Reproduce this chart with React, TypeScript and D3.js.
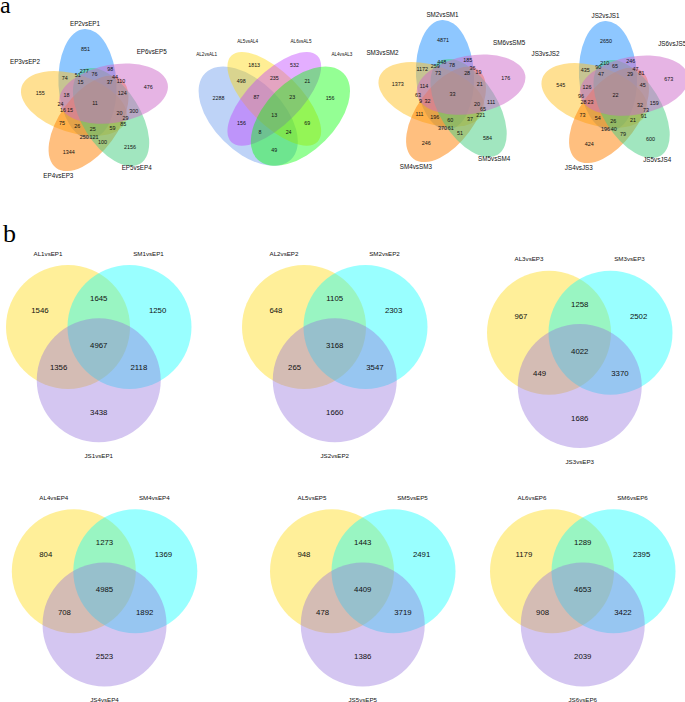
import React, { useMemo } from "react";
import * as d3 from "d3";

// ---------------- data ----------------
// five-set Venn diagrams (set order: top, left, bottom-left, bottom-right, right)
const epSets = ["EP2vsEP1", "EP3vsEP2", "EP4vsEP3", "EP5vsEP4", "EP6vsEP5"];
const smSets = ["SM2vsSM1", "SM3vsSM2", "SM4vsSM3", "SM5vsSM4", "SM6vsSM5"];
const jsSets = ["JS2vsJS1", "JS3vsJS2", "JS4vsJS3", "JS5vsJS4", "JS6vsJS5"];
const fiveRegions = [
  "1", "2", "3", "4", "5",
  "12", "13", "14", "15", "23", "24", "25", "34", "35", "45",
  "123", "124", "125", "134", "135", "145", "234", "235", "245", "345",
  "1234", "1235", "1245", "1345", "2345", "12345",
];
const epCounts = [
  851, 155, 1344, 2156, 476,
  74, 250, 277, 98, 75, 85, 24, 100, 110, 300,
  26, 51, 18, 121, 44, 76, 59, 16, 29, 124,
  25, 15, 15, 37, 20, 11,
];
const smCounts = [
  4871, 1373, 246, 584, 176,
  1172, 370, 448, 185, 111, 221, 63, 51, 19, 111,
  196, 259, 114, 61, 36, 78, 37, 9, 65, 21,
  60, 32, 73, 28, 20, 33,
];
const jsCounts = [
  2650, 545, 424, 600, 673,
  435, 196, 210, 246, 73, 91, 96, 79, 81, 159,
  54, 90, 126, 40, 47, 65, 21, 28, 73, 45,
  26, 23, 47, 29, 32, 22,
];
const fiveColors = ["#1E90FF", "#FFC125", "#FF7F00", "#43CD80", "#CD69C9"];

// four-set Venn diagram
const alSets = ["AL2vsAL1", "AL5vsAL4", "AL6vsAL5", "AL4vsAL3"];
const fourRegions = ["1", "2", "3", "4", "12", "13", "14", "23", "24", "34", "123", "124", "134", "234", "1234"];
const alCounts = [2288, 1813, 532, 156, 498, 156, 49, 235, 69, 21, 87, 24, 8, 23, 13];
const fourColors = ["#6495ED", "#FFD700", "#BF3EFF", "#00FF00"];

// three-set Venn diagrams (panel b)
const threeRegions = ["1", "2", "3", "12", "13", "23", "123"];
const bSets = [
  ["AL1vsEP1", "SM1vsEP1", "JS1vsEP1"],
  ["AL2vsEP2", "SM2vsEP2", "JS2vsEP2"],
  ["AL3vsEP3", "SM3vsEP3", "JS3vsEP3"],
  ["AL4vsEP4", "SM4vsEP4", "JS4vsEP4"],
  ["AL5vsEP5", "SM5vsEP5", "JS5vsEP5"],
  ["AL6vsEP6", "SM6vsEP6", "JS6vsEP6"],
];
const bCounts = [
  [1546, 1250, 3438, 1645, 1356, 2118, 4967],
  [648, 2303, 1660, 1105, 265, 3547, 3168],
  [967, 2502, 1686, 1258, 449, 3370, 4022],
  [804, 1369, 2523, 1273, 708, 1892, 4985],
  [948, 2491, 1386, 1443, 478, 3719, 4409],
  [1179, 2395, 2039, 1289, 908, 3422, 4653],
];
const threeColors = ["#FFD700", "#00FFFF", "#9370DB"];

// ---------------- layout ----------------
const FIVE = { a: 29, b: 55, d: 21, twist: 18, font: 5.4 };
const fiveAngleAdjust = [-3, 0, 0, 4, 8];
const fivePanels = [
  { sets: epSets, counts: epCounts, cx: 95, cy: 103.5 },
  { sets: smSets, counts: smCounts, cx: 452.5, cy: 94.5 },
  { sets: jsSets, counts: jsCounts, cx: 615.5, cy: 95.5 },
];
const fiveLabelOffsets = [[-10, -79.5], [-70, -41.8], [-36.7, 72.2], [41.7, 63.8], [56.7, -51.5]];

const FOUR = { x0: 187.3, y0: 198, unit: 174 };
const fourEllipses = [
  { x: 0.35, y: 0.47, a: 0.35, b: 0.2, rot: -45 },
  { x: 0.5, y: 0.57, a: 0.35, b: 0.15, rot: -45 },
  { x: 0.5, y: 0.57, a: 0.35, b: 0.15, rot: 45 },
  { x: 0.65, y: 0.47, a: 0.35, b: 0.2, rot: 45 },
];
const fourLabelPos = [[-67.6, 54], [-26.6, 41.7], [26.7, 41.7], [67.6, 54]];

const THREE = { r: 62, s: 61.5 };
const threePanels = [
  { cx: 68, cy: 327 },
  { cx: 304, cy: 327 },
  { cx: 549, cy: 332.8 },
  { cx: 73.8, cy: 571.3 },
  { cx: 332, cy: 571.3 },
  { cx: 552, cy: 571.3 },
];

type Shape = { cx: number; cy: number; rx: number; ry: number; rot: number; fill: string };

function inside(s: Shape, x: number, y: number) {
  const t = (s.rot * Math.PI) / 180;
  const dx = x - s.cx, dy = y - s.cy;
  const u = dx * Math.cos(t) + dy * Math.sin(t);
  const v = -dx * Math.sin(t) + dy * Math.cos(t);
  return (u * u) / (s.rx * s.rx) + (v * v) / (s.ry * s.ry) <= 1;
}

function maskOf(key: string) {
  let m = 0;
  for (const ch of key) m |= 1 << (+ch - 1);
  return m;
}

// label anchor of each region = its most interior point (distance transform)
function regionAnchors(shapes: Shape[], step: number) {
  let x0 = Infinity, y0 = Infinity, x1 = -Infinity, y1 = -Infinity;
  for (const s of shapes) {
    const e = Math.max(s.rx, s.ry);
    x0 = Math.min(x0, s.cx - e); y0 = Math.min(y0, s.cy - e);
    x1 = Math.max(x1, s.cx + e); y1 = Math.max(y1, s.cy + e);
  }
  x0 -= 4; y0 -= 4; x1 += 4; y1 += 4;
  const nx = Math.ceil((x1 - x0) / step) + 1, ny = Math.ceil((y1 - y0) / step) + 1;
  const mask = new Int32Array(nx * ny);
  for (let j = 0; j < ny; j++)
    for (let i = 0; i < nx; i++) {
      const x = x0 + i * step, y = y0 + j * step;
      let m = 0;
      for (let k = 0; k < shapes.length; k++) if (inside(shapes[k], x, y)) m |= 1 << k;
      mask[j * nx + i] = m;
    }
  const INF = 1e9;
  const dist = new Float64Array(nx * ny);
  for (let j = 0; j < ny; j++)
    for (let i = 0; i < nx; i++) {
      const idx = j * nx + i, m = mask[idx];
      let edge = i === 0 || j === 0 || i === nx - 1 || j === ny - 1;
      if (!edge && (mask[idx - 1] !== m || mask[idx + 1] !== m || mask[idx - nx] !== m || mask[idx + nx] !== m)) edge = true;
      dist[idx] = edge ? 0 : INF;
    }
  const D = Math.SQRT2;
  for (let j = 0; j < ny; j++)
    for (let i = 0; i < nx; i++) {
      const idx = j * nx + i;
      let v = dist[idx];
      if (i > 0) v = Math.min(v, dist[idx - 1] + 1);
      if (j > 0) {
        v = Math.min(v, dist[idx - nx] + 1);
        if (i > 0) v = Math.min(v, dist[idx - nx - 1] + D);
        if (i < nx - 1) v = Math.min(v, dist[idx - nx + 1] + D);
      }
      dist[idx] = v;
    }
  for (let j = ny - 1; j >= 0; j--)
    for (let i = nx - 1; i >= 0; i--) {
      const idx = j * nx + i;
      let v = dist[idx];
      if (i < nx - 1) v = Math.min(v, dist[idx + 1] + 1);
      if (j < ny - 1) {
        v = Math.min(v, dist[idx + nx] + 1);
        if (i < nx - 1) v = Math.min(v, dist[idx + nx + 1] + D);
        if (i > 0) v = Math.min(v, dist[idx + nx - 1] + D);
      }
      dist[idx] = v;
    }
  const maxD = new Map<number, number>();
  for (let idx = 0; idx < mask.length; idx++) {
    const m = mask[idx];
    if (!m) continue;
    if (!maxD.has(m) || dist[idx] > (maxD.get(m) as number)) maxD.set(m, dist[idx]);
  }
  const acc = new Map<number, [number, number, number]>();
  for (let j = 0; j < ny; j++)
    for (let i = 0; i < nx; i++) {
      const idx = j * nx + i, m = mask[idx];
      if (!m) continue;
      if (dist[idx] >= (maxD.get(m) as number) - 0.75) {
        const a = acc.get(m) || [0, 0, 0];
        a[0] += x0 + i * step; a[1] += y0 + j * step; a[2] += 1;
        acc.set(m, a);
      }
    }
  const out = new Map<number, [number, number]>();
  acc.forEach((a, m) => out.set(m, [a[0] / a[2], a[1] / a[2]]));
  return out;
}

// push apart number labels whose boxes overlap (horizontal nudge)
type Lab = { x: number; y: number; w: number; h: number; text: string; key: string };
function declutter(items: Lab[]) {
  for (let it = 0; it < 40; it++) {
    let moved = false;
    for (let i = 0; i < items.length; i++)
      for (let j = i + 1; j < items.length; j++) {
        const a = items[i], b = items[j];
        const dx = b.x - a.x, dy = b.y - a.y;
        const ox = (a.w + b.w) / 2 + 0.8 - Math.abs(dx);
        const oy = (a.h + b.h) / 2 - Math.abs(dy);
        if (ox > 0 && oy > 0) {
          const s = dx >= 0 ? 1 : -1;
          a.x -= (s * ox) / 2; b.x += (s * ox) / 2;
          moved = true;
        }
      }
    if (!moved) break;
  }
  return items;
}

const SANS = "'Liberation Sans', Arial, Helvetica, sans-serif";
const SERIF = "'Liberation Serif', 'Times New Roman', serif";

export default function App() {
  const five = useMemo(() => {
    const shapes: Shape[] = fiveColors.map((fill, i) => {
      const axis = -90 - 72 * i + fiveAngleAdjust[i];
      const cdir = ((axis - FIVE.twist) * Math.PI) / 180;
      return { cx: FIVE.d * Math.cos(cdir), cy: FIVE.d * Math.sin(cdir), rx: FIVE.b, ry: FIVE.a, rot: axis, fill };
    });
    const anchors = regionAnchors(shapes, 0.5);
    const labels = fivePanels.map((p) =>
      declutter(
        fiveRegions
          .map((key, i) => {
            const pt = anchors.get(maskOf(key));
            if (!pt) return null;
            const text = String(p.counts[i]);
            return { x: pt[0], y: pt[1], w: text.length * 0.556 * FIVE.font, h: FIVE.font * 0.72, text, key };
          })
          .filter(Boolean) as Lab[]
      )
    );
    return { shapes, labels };
  }, []);

  const four = useMemo(() => {
    const xs = d3.scaleLinear().domain([0, 1]).range([FOUR.x0, FOUR.x0 + FOUR.unit]);
    const ys = d3.scaleLinear().domain([0, 1]).range([FOUR.y0, FOUR.y0 - FOUR.unit]);
    const shapes: Shape[] = fourEllipses.map((e, i) => ({
      cx: xs(e.x), cy: ys(e.y), rx: e.a * FOUR.unit, ry: e.b * FOUR.unit, rot: -e.rot, fill: fourColors[i],
    }));
    return { shapes, anchors: regionAnchors(shapes, 0.5), midX: xs(0.5) };
  }, []);

  const three = useMemo(() => {
    const { r, s } = THREE;
    const shapes: Shape[] = [
      { cx: 0, cy: 0, rx: r, ry: r, rot: 0, fill: threeColors[0] },
      { cx: s, cy: 0, rx: r, ry: r, rot: 0, fill: threeColors[1] },
      { cx: s / 2, cy: s * Math.sqrt(3) / 2, rx: r, ry: r, rot: 0, fill: threeColors[2] },
    ];
    return { shapes, anchors: regionAnchors(shapes, 0.5) };
  }, []);

  return (
    <svg width={685} height={702} style={{ position: "absolute", left: 0, top: 0, background: "#fff" }} fontFamily={SANS}>
      <rect width={685} height={702} fill="#fff" />
      <text x={0} y={13} fontSize={24} fontFamily={SERIF}>a</text>
      <text x={3} y={241.5} fontSize={26} fontFamily={SERIF}>b</text>

      {fivePanels.map((p, pi) => (
        <g key={"five" + pi} transform={`translate(${p.cx},${p.cy})`}>
          {five.shapes.map((s, i) => (
            <ellipse key={i} cx={s.cx} cy={s.cy} rx={s.rx} ry={s.ry} fill={s.fill} fillOpacity={0.5}
              transform={`rotate(${s.rot},${s.cx},${s.cy})`} />
          ))}
          {five.labels[pi].map((l) => (
            <text key={l.key} x={l.x} y={l.y} dy="0.35em" textAnchor="middle" fontSize={FIVE.font} fill="#111">
              {l.text}
            </text>
          ))}
          {p.sets.map((name, i) => (
            <text key={name} x={fiveLabelOffsets[i][0]} y={fiveLabelOffsets[i][1]} dy="0.35em" textAnchor="middle" fontSize={6.3} fill="#111">
              {name}
            </text>
          ))}
        </g>
      ))}

      <g>
        {four.shapes.map((s, i) => (
          <ellipse key={i} cx={s.cx} cy={s.cy} rx={s.rx} ry={s.ry} fill={s.fill} fillOpacity={0.42}
            transform={`rotate(${s.rot},${s.cx},${s.cy})`} />
        ))}
        {fourRegions.map((key, i) => {
          const pt = four.anchors.get(maskOf(key));
          if (!pt) return null;
          return (
            <text key={key} x={pt[0]} y={pt[1]} dy="0.35em" textAnchor="middle" fontSize={5.3} fill="#111">
              {alCounts[i]}
            </text>
          );
        })}
        {alSets.map((name, i) => (
          <text key={name} x={four.midX + fourLabelPos[i][0]} y={fourLabelPos[i][1]} dy="0.35em" textAnchor="middle" fontSize={4.6} fill="#111">
            {name}
          </text>
        ))}
      </g>

      {threePanels.map((p, pi) => {
        const { s } = THREE;
        const h = (s * Math.sqrt(3)) / 2;
        return (
          <g key={"three" + pi} transform={`translate(${p.cx},${p.cy})`}>
            {three.shapes.map((c, i) => (
              <circle key={i} cx={c.cx} cy={c.cy} r={c.rx} fill={c.fill} fillOpacity={0.4} />
            ))}
            {threeRegions.map((key, i) => {
              const pt = three.anchors.get(maskOf(key));
              if (!pt) return null;
              return (
                <text key={key} x={pt[0]} y={pt[1]} dy="0.35em" textAnchor="middle" fontSize={7.8} fill="#111">
                  {bCounts[pi][i]}
                </text>
              );
            })}
            <text x={-20} y={-73.5} dy="0.35em" textAnchor="middle" fontSize={6.2} fill="#111">{bSets[pi][0]}</text>
            <text x={s + 19} y={-73.5} dy="0.35em" textAnchor="middle" fontSize={6.2} fill="#111">{bSets[pi][1]}</text>
            <text x={s / 2} y={h + 75.5} dy="0.35em" textAnchor="middle" fontSize={6.2} fill="#111">{bSets[pi][2]}</text>
          </g>
        );
      })}
    </svg>
  );
}
